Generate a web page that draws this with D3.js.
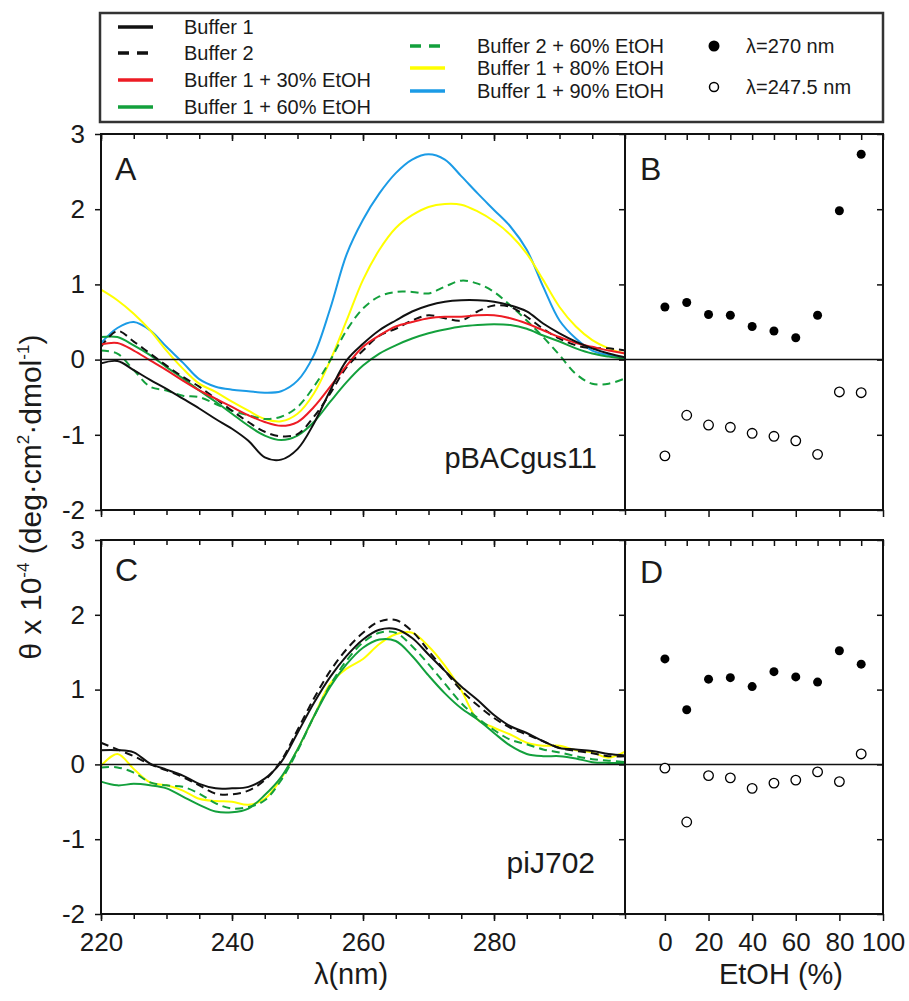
<!DOCTYPE html>
<html>
<head>
<meta charset="utf-8">
<script src="https://cdn.jsdelivr.net/npm/d3@7"></script>
<style>
body { margin: 0; background: #fff; }
svg { display: block; font-family: "Liberation Sans", Arial, sans-serif; }
</style>
</head>
<body>
<div id="chart"></div>
<script>
// wavelength grid (nm) used by every CD spectrum
var lambda = [220,222.5,225,227.5,230,232.5,235,237.5,240,242.5,245,247.5,250,252.5,255,257.5,
              260,262.5,265,267.5,270,272.5,275,277.5,280,282.5,285,287.5,290,292.5,295,297.5,300];

// panel A - pBACgus11
var a_buf1  = [-0.05,-0.02,-0.14,-0.27,-0.39,-0.52,-0.65,-0.79,-0.92,-1.08,-1.30,-1.33,-1.19,-0.85,-0.41,-0.01,0.21,0.39,0.52,0.64,0.72,0.77,0.79,0.79,0.77,0.72,0.64,0.48,0.35,0.24,0.15,0.08,0.03];
var a_buf2  = [0.17,0.38,0.24,0.08,-0.08,-0.23,-0.36,-0.52,-0.68,-0.83,-0.96,-1.02,-0.99,-0.76,-0.45,-0.10,0.12,0.32,0.41,0.52,0.59,0.55,0.52,0.64,0.72,0.70,0.57,0.41,0.28,0.19,0.15,0.15,0.12];
var a_e30   = [0.20,0.22,0.12,-0.01,-0.14,-0.28,-0.41,-0.52,-0.63,-0.74,-0.83,-0.88,-0.83,-0.63,-0.36,-0.08,0.17,0.32,0.44,0.50,0.55,0.57,0.57,0.59,0.59,0.55,0.48,0.39,0.30,0.22,0.17,0.12,0.08];
var a_e60   = [0.30,0.30,0.19,0.06,-0.10,-0.25,-0.41,-0.56,-0.72,-0.88,-1.01,-1.07,-1.01,-0.83,-0.56,-0.30,-0.08,0.08,0.19,0.28,0.35,0.40,0.44,0.46,0.47,0.46,0.41,0.32,0.24,0.15,0.08,0.04,0.01];
var a_b2e60 = [0.12,0.08,-0.14,-0.36,-0.41,-0.48,-0.50,-0.59,-0.68,-0.74,-0.79,-0.76,-0.63,-0.36,-0.01,0.39,0.68,0.84,0.90,0.90,0.88,0.97,1.05,1.01,0.90,0.72,0.52,0.30,0.06,-0.19,-0.32,-0.32,-0.25];
var a_e80   = [0.93,0.79,0.61,0.39,0.12,-0.12,-0.32,-0.43,-0.56,-0.68,-0.79,-0.82,-0.72,-0.45,-0.01,0.52,1.06,1.46,1.75,1.92,2.03,2.07,2.06,1.97,1.84,1.66,1.41,1.06,0.70,0.44,0.26,0.15,0.08];
var a_e90   = [0.22,0.42,0.50,0.39,0.17,-0.04,-0.26,-0.36,-0.40,-0.42,-0.44,-0.42,-0.28,0.06,0.68,1.40,1.86,2.21,2.48,2.66,2.73,2.66,2.44,2.21,1.99,1.77,1.46,0.97,0.52,0.28,0.12,0.06,0.03];

// panel C - piJ702
var c_buf1  = [0.19,0.19,0.16,0.01,-0.07,-0.15,-0.26,-0.32,-0.32,-0.30,-0.19,0.03,0.42,0.82,1.17,1.45,1.67,1.80,1.81,1.69,1.47,1.25,1.04,0.86,0.66,0.51,0.42,0.31,0.22,0.20,0.18,0.14,0.12];
var c_buf2  = [0.29,0.20,0.11,0.00,-0.08,-0.17,-0.28,-0.39,-0.40,-0.35,-0.21,0.05,0.46,0.88,1.25,1.54,1.76,1.91,1.93,1.78,1.52,1.25,0.99,0.79,0.62,0.49,0.40,0.31,0.22,0.18,0.15,0.11,0.11];
var c_e60   = [-0.23,-0.28,-0.26,-0.28,-0.32,-0.43,-0.54,-0.63,-0.64,-0.59,-0.41,-0.17,0.20,0.64,1.04,1.34,1.56,1.67,1.65,1.45,1.19,0.95,0.75,0.60,0.42,0.25,0.14,0.11,0.11,0.08,0.03,0.02,0.02];
var c_b2e60 = [-0.04,-0.04,-0.11,-0.24,-0.28,-0.30,-0.39,-0.52,-0.59,-0.57,-0.48,-0.21,0.18,0.64,1.06,1.39,1.63,1.76,1.76,1.58,1.34,1.08,0.82,0.62,0.46,0.33,0.27,0.20,0.16,0.11,0.07,0.05,0.03];
var c_e80   = [-0.02,0.14,-0.06,-0.24,-0.28,-0.35,-0.46,-0.49,-0.50,-0.54,-0.46,-0.19,0.20,0.64,1.08,1.28,1.41,1.61,1.74,1.76,1.58,1.32,0.99,0.60,0.49,0.40,0.29,0.25,0.25,0.19,0.16,0.09,0.17];

// panels B and D: theta vs EtOH %
var etoh = [0,10,20,30,40,50,60,70,80,90];
var b_270 = [0.70,0.76,0.60,0.59,0.44,0.38,0.29,0.59,1.98,2.73];
var b_247 = [-1.28,-0.74,-0.87,-0.90,-0.98,-1.02,-1.08,-1.26,-0.43,-0.44];
var d_270 = [1.41,0.73,1.14,1.16,1.04,1.24,1.17,1.10,1.52,1.34];
var d_247 = [-0.05,-0.77,-0.15,-0.18,-0.32,-0.25,-0.21,-0.10,-0.23,0.14];

var lamTicks = [220,240,260,280];
var lamMinor = [220,225,230,235,240,245,250,255,260,265,270,275,280,285,290,295,300];
var yTicks = [-2,-1,0,1,2,3];
var etohTicks = [0,20,40,60,80,100];
var etohMinor = [0,10,20,30,40,50,60,70,80,90,100];

var colBlack = "#111", colRed = "#ed1c24", colGreen = "#13a03c", colYellow = "#ffff00", colBlue = "#1b9be6";

const svg = d3.select("#chart").append("svg")
  .attr("width", 909)
  .attr("height", 1001);

const xL = d3.scaleLinear().domain([220,300]).range([101,625]);
const xE = d3.scaleLinear().domain([-18.3,100]).range([625,883]);
const yA = d3.scaleLinear().domain([-2,3]).range([510,134]);
const yC = d3.scaleLinear().domain([-2,3]).range([914,540]);

const fmt = d => String(d);
const FONT = "Liberation Sans, Arial, sans-serif";

function styleAxis(g, size) {
  g.attr("font-size", size).attr("font-family", FONT);
  g.select(".domain").remove();
  g.selectAll("line").attr("stroke", "#111").attr("stroke-width", 1.5);
  g.selectAll("text").attr("fill", "#1a1a1a");
}

function frame(y, labels) {
  const top = y.range()[1], bottom = y.range()[0];

  // wavelength panel ticks
  var g;
  g = svg.append("g").attr("transform", "translate(0," + bottom + ")")
    .call(d3.axisBottom(xL).tickValues(lamMinor).tickSize(5).tickFormat(""));
  styleAxis(g, 26);
  g = svg.append("g").attr("transform", "translate(0," + bottom + ")")
    .call(d3.axisBottom(xL).tickValues(lamTicks).tickSize(7).tickPadding(12).tickFormat(labels ? fmt : ""));
  styleAxis(g, 26);
  g = svg.append("g").attr("transform", "translate(0," + top + ")")
    .call(d3.axisBottom(xL).tickValues(lamMinor).tickSize(5).tickFormat(""));
  styleAxis(g, 26);
  g = svg.append("g").attr("transform", "translate(0," + top + ")")
    .call(d3.axisBottom(xL).tickValues(lamTicks).tickSize(7).tickFormat(""));
  styleAxis(g, 26);
  g = svg.append("g").attr("transform", "translate(101,0)")
    .call(d3.axisLeft(y).tickValues(yTicks).tickSize(6).tickPadding(10).tickFormat(fmt));
  styleAxis(g, 26);
  g = svg.append("g").attr("transform", "translate(625,0)")
    .call(d3.axisLeft(y).tickValues(yTicks).tickSize(6).tickFormat(""));
  styleAxis(g, 26);

  // EtOH panel ticks
  g = svg.append("g").attr("transform", "translate(883,0)")
    .call(d3.axisLeft(y).tickValues(yTicks).tickSize(6).tickFormat(""));
  styleAxis(g, 26);
  g = svg.append("g").attr("transform", "translate(0," + top + ")")
    .call(d3.axisBottom(xE).tickValues(etohMinor).tickSize(6).tickFormat(""));
  styleAxis(g, 26);
  g = svg.append("g").attr("transform", "translate(0," + bottom + ")")
    .call(d3.axisBottom(xE).tickValues(etohTicks).tickSize(7).tickPadding(12).tickFormat(labels ? fmt : ""));
  styleAxis(g, 26);

  // frames
  svg.append("rect")
    .attr("x", xL(220)).attr("y", top)
    .attr("width", xL(300) - xL(220)).attr("height", bottom - top)
    .style("fill", "none").style("stroke", "#111").style("stroke-width", 2);
  svg.append("rect")
    .attr("x", xE.range()[0]).attr("y", top)
    .attr("width", xE.range()[1] - xE.range()[0]).attr("height", bottom - top)
    .style("fill", "none").style("stroke", "#111").style("stroke-width", 2);
  // zero line across both panels
  svg.append("line")
    .attr("x1", xL(220)).attr("x2", xE.range()[1])
    .attr("y1", y(0)).attr("y2", y(0))
    .style("stroke", "#111").style("stroke-width", 1.5);
}

function curves(y, list) {
  const line = d3.line()
    .x((d, i) => xL(lambda[i]))
    .y(d => y(d))
    .curve(d3.curveCatmullRom.alpha(0.5));
  list.forEach(function (s) {
    svg.append("path")
      .datum(s.values)
      .attr("d", line)
      .style("fill", "none")
      .style("stroke", s.color)
      .style("stroke-width", 2)
      .style("stroke-dasharray", s.dash ? "8,5" : null);
  });
}

function dots(y, v270, v247) {
  svg.append("g").selectAll("circle").data(v270).enter().append("circle")
    .attr("cx", (d, i) => xE(etoh[i])).attr("cy", d => y(d)).attr("r", 4.5)
    .style("fill", "#000");
  svg.append("g").selectAll("circle").data(v247).enter().append("circle")
    .attr("cx", (d, i) => xE(etoh[i])).attr("cy", d => y(d)).attr("r", 4.8)
    .style("fill", "#fff").style("stroke", "#000").style("stroke-width", 1.3);
}

// ---- panel A / B
curves(yA, [
  {values: a_e90, color: colBlue},
  {values: a_e80, color: colYellow},
  {values: a_b2e60, color: colGreen, dash: true},
  {values: a_e60, color: colGreen},
  {values: a_buf2, color: colBlack, dash: true},
  {values: a_e30, color: colRed},
  {values: a_buf1, color: colBlack}
]);
frame(yA, false);
dots(yA, b_270, b_247);

// ---- panel C / D
curves(yC, [
  {values: c_e80, color: colYellow},
  {values: c_b2e60, color: colGreen, dash: true},
  {values: c_e60, color: colGreen},
  {values: c_buf2, color: colBlack, dash: true},
  {values: c_buf1, color: colBlack}
]);
frame(yC, true);
dots(yC, d_270, d_247);

// panel letters and plasmid names
function txt(x, y, s, size, anchor) {
  svg.append("text").attr("x", x).attr("y", y).text(s)
    .attr("font-size", size).attr("fill", "#1a1a1a")
    .attr("text-anchor", anchor || "start");
}
txt(115, 180, "A", 32);
txt(640, 180, "B", 32);
txt(115, 581, "C", 32);
txt(640, 583, "D", 32);
txt(597, 468, "pBACgus11", 29, "end");
txt(595, 873, "piJ702", 30, "end");

// axis titles
txt(351, 984, "\u03bb(nm)", 29, "middle");
txt(781, 984, "EtOH (%)", 29, "middle");

var yt = svg.append("text")
  .attr("transform", "translate(41,497) rotate(-90)")
  .attr("text-anchor", "middle")
  .attr("font-size", 30)
  .attr("fill", "#1a1a1a");
yt.append("tspan").text("\u03b8 x 10");
yt.append("tspan").attr("font-size", 17).attr("dy", -12).text("-4");
yt.append("tspan").attr("dy", 12).text(" (deg\u00b7cm");
yt.append("tspan").attr("font-size", 17).attr("dy", -12).text("2");
yt.append("tspan").attr("dy", 12).text("\u00b7dmol");
yt.append("tspan").attr("font-size", 17).attr("dy", -12).text("-1");
yt.append("tspan").attr("dy", 12).text(")");

// ---- legend
var legNames1 = ["Buffer 1", "Buffer 2", "Buffer 1 + 30% EtOH", "Buffer 1 + 60% EtOH"];
var legNames2 = ["Buffer 2 + 60% EtOH", "Buffer 1 + 80% EtOH", "Buffer 1 + 90% EtOH"];
var legNames3 = ["\u03bb=270 nm", "\u03bb=247.5 nm"];
var legCol1 = [colBlack, colBlack, colRed, colGreen];
var legDash1 = [false, true, false, false];
var legCol2 = [colGreen, colYellow, colBlue];
var legDash2 = [true, false, false];
var legRows1 = [27, 53, 80, 107];
var legRows2 = [46, 68, 91];
var legRows3 = [46, 87];

svg.append("rect")
  .attr("x", 100).attr("y", 13).attr("width", 783).attr("height", 109)
  .style("fill", "none").style("stroke", "#333").style("stroke-width", 2.5);

function legLine(x1, x2, yy, color, dash) {
  svg.append("line").attr("x1", x1).attr("x2", x2).attr("y1", yy).attr("y2", yy)
    .style("stroke", color).style("stroke-width", 3.5)
    .style("stroke-dasharray", dash ? "11,8" : null);
}
legNames1.forEach(function (n, i) {
  legLine(118, 153, legRows1[i], legCol1[i], legDash1[i]);
  txt(184, legRows1[i] + 7, n, 20);
});
legNames2.forEach(function (n, i) {
  legLine(410, 445, legRows2[i], legCol2[i], legDash2[i]);
  txt(477, legRows2[i] + 7, n, 20);
});
svg.append("circle").attr("cx", 714).attr("cy", legRows3[0]).attr("r", 5.5).style("fill", "#000");
svg.append("circle").attr("cx", 714).attr("cy", legRows3[1]).attr("r", 4.5)
  .style("fill", "#fff").style("stroke", "#000").style("stroke-width", 1.5);
legNames3.forEach(function (n, i) {
  txt(746, legRows3[i] + 7, n, 20);
});
</script>
</body>
</html>
